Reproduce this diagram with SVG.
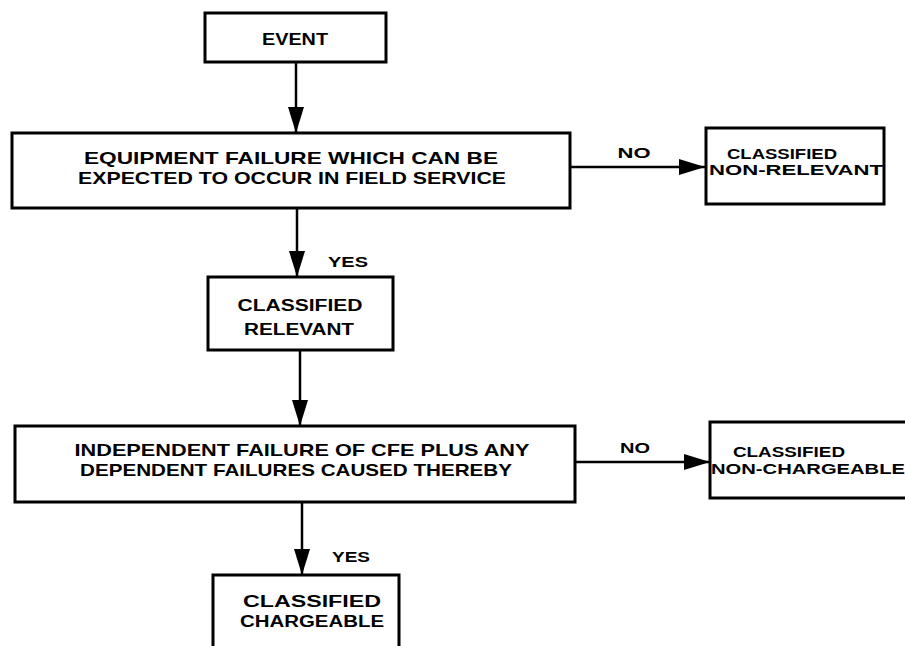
<svg xmlns="http://www.w3.org/2000/svg" width="905" height="646" viewBox="0 0 905 646">
<defs>
<style>
.box{fill:none;stroke:#000;stroke-width:3}
.t{font-family:"Liberation Sans",Arial,sans-serif;font-weight:bold;fill:#000;text-anchor:middle}
.big{font-size:17px}
.mid{font-size:16px}
.sm{font-size:14px}
.line{stroke:#000;stroke-width:2.5;fill:none}
</style>
<marker id="ah" markerUnits="userSpaceOnUse" markerWidth="28" markerHeight="16" refX="26" refY="8" orient="auto">
<path d="M0,0 L26,8 L0,16 Z" fill="#000"/>
</marker>
</defs>
<rect width="905" height="646" fill="#fff"/>
<g id="connectors">
<line class="line" x1="296" y1="62" x2="296" y2="133" marker-end="url(#ah)"/>
<line class="line" x1="570" y1="167" x2="705" y2="167" marker-end="url(#ah)"/>
<line class="line" x1="297" y1="208" x2="297" y2="277" marker-end="url(#ah)"/>
<line class="line" x1="300" y1="350" x2="300" y2="426" marker-end="url(#ah)"/>
<line class="line" x1="575" y1="462" x2="710" y2="462" marker-end="url(#ah)"/>
<line class="line" x1="302" y1="502" x2="302" y2="575" marker-end="url(#ah)"/>
<text class="t sm" x="634" y="158" textLength="33" lengthAdjust="spacingAndGlyphs">NO</text>
<text class="t sm" x="348" y="267" textLength="40" lengthAdjust="spacingAndGlyphs">YES</text>
<text class="t sm" x="635" y="453" textLength="30" lengthAdjust="spacingAndGlyphs">NO</text>
<text class="t sm" x="351" y="562" textLength="38" lengthAdjust="spacingAndGlyphs">YES</text>
</g>
<g id="event">
<rect class="box" x="205" y="13" width="181" height="49"/>
<text class="t big" x="295" y="45" textLength="66" lengthAdjust="spacingAndGlyphs">EVENT</text>
</g>
<g id="equipment-failure">
<rect class="box" x="12" y="133" width="558" height="75"/>
<text class="t big" x="291" y="164" textLength="414" lengthAdjust="spacingAndGlyphs">EQUIPMENT FAILURE WHICH CAN BE</text>
<text class="t big" x="292" y="184" textLength="428" lengthAdjust="spacingAndGlyphs">EXPECTED TO OCCUR IN FIELD SERVICE</text>
</g>
<g id="non-relevant">
<rect class="box" x="706" y="128" width="178" height="76"/>
<text class="t sm" x="782" y="159" textLength="110" lengthAdjust="spacingAndGlyphs">CLASSIFIED</text>
<text class="t sm" x="796" y="175" textLength="174" lengthAdjust="spacingAndGlyphs">NON-RELEVANT</text>
</g>
<g id="relevant">
<rect class="box" x="208" y="277" width="185" height="73"/>
<text class="t mid" x="300" y="311" textLength="125" lengthAdjust="spacingAndGlyphs">CLASSIFIED</text>
<text class="t mid" x="299" y="335" textLength="110" lengthAdjust="spacingAndGlyphs">RELEVANT</text>
</g>
<g id="independent-failure">
<rect class="box" x="15" y="426" width="560" height="76"/>
<text class="t big" x="302" y="456" textLength="455" lengthAdjust="spacingAndGlyphs">INDEPENDENT FAILURE OF CFE PLUS ANY</text>
<text class="t big" x="296" y="476" textLength="432" lengthAdjust="spacingAndGlyphs">DEPENDENT FAILURES CAUSED THEREBY</text>
</g>
<g id="non-chargeable">
<rect class="box" x="710" y="422" width="205" height="76"/>
<text class="t sm" x="789" y="457" textLength="112" lengthAdjust="spacingAndGlyphs">CLASSIFIED</text>
<text class="t sm" x="808" y="474" textLength="194" lengthAdjust="spacingAndGlyphs">NON-CHARGEABLE</text>
</g>
<g id="chargeable">
<rect class="box" x="213" y="575" width="186" height="80"/>
<text class="t mid" x="312" y="607" textLength="138" lengthAdjust="spacingAndGlyphs">CLASSIFIED</text>
<text class="t mid" x="312" y="627" textLength="144" lengthAdjust="spacingAndGlyphs">CHARGEABLE</text>
</g>
</svg>
